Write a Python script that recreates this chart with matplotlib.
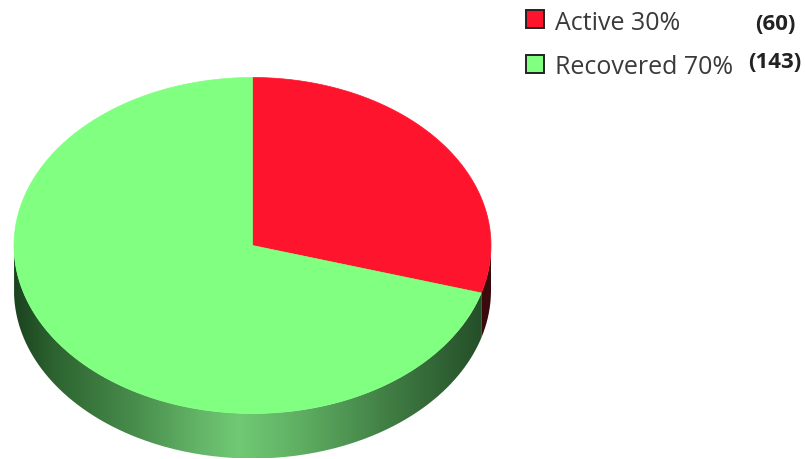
import numpy as np
import matplotlib
matplotlib.use("Agg")
import matplotlib.pyplot as plt
from matplotlib.colors import LinearSegmentedColormap
from matplotlib.patches import PathPatch, Polygon, Rectangle
from matplotlib.path import Path

labels = ["Active 30%", "Recovered 70%"]
counts = [60, 143]
count_labels = ["(60)", "(143)"]
colors = ["#ff142d", "#80ff80"]

# pie geometry in pixels
cx, cy = 252.5, 246.5
rx, ry = 238.5, 168
depth = 45

green_side = LinearSegmentedColormap.from_list("green_side", [
    (0.0, "#1b4320"), (0.08, "#2c632f"), (0.25, "#488c4c"), (0.38, "#62b366"),
    (0.47, "#70c974"), (0.60, "#5fae63"), (0.78, "#417f45"), (0.92, "#2d5d31"),
    (1.0, "#234a27"),
])
red_side = LinearSegmentedColormap.from_list("red_side", ["#7a0f18", "#3a0a0d"])


def rim(a0, a1, n=200):
    # angles clockwise from 12 o'clock
    t = np.radians(np.linspace(a0, a1, n))
    return np.column_stack([cx + rx * np.sin(t), cy - ry * np.cos(t)])


def side_strip(a0, a1, cmap):
    top = rim(a0, a1)
    low = top[::-1] + [0, depth]
    patch = PathPatch(Path(np.vstack([top, low])), fc="none", ec="none")
    ax.add_patch(patch)
    grad = np.linspace(0, 1, 512).reshape(1, -1)
    im = ax.imshow(grad, cmap=cmap, aspect="auto", interpolation="bilinear",
                   extent=(cx - rx, cx + rx, cy + ry + depth, cy - ry), zorder=1)
    im.set_clip_path(patch)


fig = plt.figure(figsize=(8.05, 4.6), dpi=100)
ax = fig.add_axes([0, 0, 1, 1])

split = 360 * counts[0] / sum(counts)
side_strip(90, split, red_side)
side_strip(split, 270, green_side)

# top face
start = 0
for value, color in zip(counts, colors):
    end = start + 360 * value / sum(counts)
    ax.add_patch(Polygon(np.vstack([[cx, cy], rim(start, end)]), closed=True,
                         fc=color, ec=color, lw=0.5, zorder=2))
    start = end

# legend
for y, text_y, label, color, count, count_y in zip(
        [20, 65], [23, 67], labels, colors, count_labels, [25, 63]):
    ax.add_patch(Rectangle((526, y - 9), 18, 18, fc=color, ec="#222222", lw=1.4, zorder=3))
    ax.text(555, text_y, label, fontsize=18, family="Open Sans", color="#3a3a3a",
            ha="left", va="center")
    ax.text(775, count_y, count, fontsize=16, family="Open Sans", weight="bold",
            color="#222222", ha="center", va="center")

ax.set_xlim(0, 805)
ax.set_ylim(460, 0)
ax.axis("off")
fig.savefig("out.png", dpi=100)
